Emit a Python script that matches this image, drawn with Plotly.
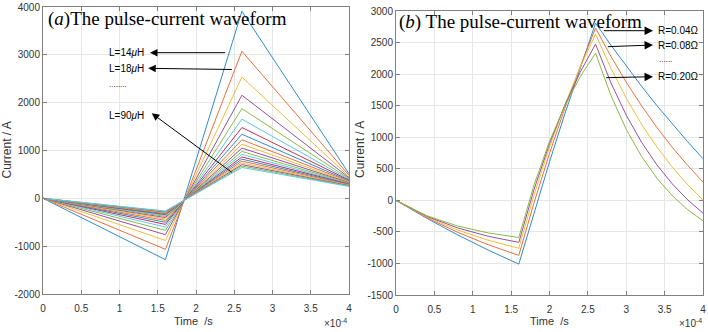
import plotly.graph_objects as go

# ---------------- data ----------------
# (a) inductance sweep: time in units of 1e-4 s
t_a = [0, 1.6, 2.6, 4.0]
L_values = [14, 18, 22, 26, 30, 34, 38, 42, 46, 50, 54, 58, 62, 66, 70, 74, 78, 82, 86, 90]
i_min_a = [-1282, -1066, -880, -760, -670, -600, -545, -500, -462, -430,
           -402, -378, -357, -339, -323, -309, -296, -285, -275, -265]
i_peak_a = [3910, 3075, 2535, 2155, 1875, 1655, 1480, 1340, 1225, 1130,
            1050, 980, 920, 865, 820, 778, 740, 705, 675, 645]
i_end_a = [515, 482, 455, 432, 412, 395, 380, 366, 353, 341,
           330, 319, 309, 300, 291, 282, 274, 266, 258, 250]

# (b) resistance sweep
t_b = [0, 0.4, 0.8, 1.2, 1.6, 1.8, 2.0, 2.2, 2.4, 2.6, 2.8, 3.0, 3.2, 3.4, 3.6, 3.8, 4.0]
R_values = ["0.04", "0.08", "0.12", "0.16", "0.20"]
i_R004 = [0, -284, -546, -787, -1011, -185, 609, 1371, 2104, 2808, 2459, 2124, 1806, 1500, 1207, 928, 660]
i_R008 = [0, -273, -505, -703, -872, -32, 743, 1459, 2119, 2729, 2281, 1872, 1497, 1154, 840, 553, 290]
i_R012 = [0, -263, -469, -631, -759, 91, 846, 1514, 2108, 2634, 2093, 1620, 1206, 843, 526, 248, 5]
i_R016 = [0, -253, -436, -569, -666, 178, 896, 1508, 2030, 2475, 1862, 1349, 920, 561, 260, 8, -203]
i_R020 = [0, -243, -406, -516, -589, 249, 935, 1497, 1957, 2333, 1662, 1124, 694, 349, 73, -148, -325]
series_b = [i_R004, i_R008, i_R012, i_R016, i_R020]

x_ticks = [0, 0.5, 1, 1.5, 2, 2.5, 3, 3.5, 4]
x_ticklabels = ["0", "0.5", "1", "1.5", "2", "2.5", "3", "3.5", "4"]
y_ticks_a = [-2000, -1000, 0, 1000, 2000, 3000, 4000]
y_ticks_b = [-1500, -1000, -500, 0, 500, 1000, 1500, 2000, 2500, 3000]

colors = ["#2E8BD0", "#EC6F3C", "#F0BE3A", "#9650A6", "#86BC45", "#5CC6F0", "#BC3450"]

W, H = 708, 332
fig = go.Figure()

for k, L in enumerate(L_values):
    fig.add_trace(go.Scatter(
        x=t_a, y=[0, i_min_a[k], i_peak_a[k], i_end_a[k]],
        mode="lines", line=dict(color=colors[k % 7], width=1),
        name=f"L={L}uH", showlegend=False, xaxis="x", yaxis="y"))

for k, s in enumerate(series_b):
    fig.add_trace(go.Scatter(
        x=t_b, y=s, mode="lines", line=dict(color=colors[k], width=1),
        name=f"R={R_values[k]}", showlegend=False, xaxis="x2", yaxis="y2"))

axis_common = dict(
    showgrid=True, gridcolor="#e6e6e6", gridwidth=1,
    showline=True, linecolor="#808080", linewidth=1, mirror="ticks",
    ticks="inside", ticklen=4, tickcolor="#808080", tickwidth=1,
    zeroline=False, automargin=False,
    tickfont=dict(family="Liberation Sans, Arial, sans-serif", size=10, color="#333333"),
)

fig.update_layout(
    width=W, height=H, margin=dict(l=0, r=0, t=0, b=0),
    paper_bgcolor="white", plot_bgcolor="white",
    xaxis=dict(domain=[43 / W, 349 / W], range=[0, 4], tickvals=x_ticks, ticktext=x_ticklabels,
               anchor="y", ticklabelstandoff=5, **axis_common),
    yaxis=dict(domain=[(H - 294) / H, (H - 7) / H], range=[-2000, 4000], tickvals=y_ticks_a,
               ticktext=[str(v) for v in y_ticks_a], anchor="x", **axis_common),
    xaxis2=dict(domain=[396 / W, 703 / W], range=[0, 4], tickvals=x_ticks, ticktext=x_ticklabels,
                anchor="y2", ticklabelstandoff=5, **axis_common),
    yaxis2=dict(domain=[(H - 295) / H, (H - 11) / H], range=[-1500, 3000], tickvals=y_ticks_b,
                ticktext=[str(v) for v in y_ticks_b], anchor="x2", **axis_common),
)

sans = "Liberation Sans, Arial, sans-serif"
serif = "Liberation Serif, Times New Roman, serif"
ann = []
# axis titles
for xc in [194 / W, 549 / W]:
    ann.append(dict(xref="paper", yref="paper", x=xc, y=(H - 321) / H, text="Time  /s",
                    xanchor="center", yanchor="middle",
                    showarrow=False, font=dict(family=sans, size=11, color="#333333")))
for xc in [6.5 / W, 360 / W]:
    ann.append(dict(xref="paper", yref="paper", x=xc, y=(H - 150) / H, text="Current / A",
                    xanchor="center", yanchor="middle",
                    textangle=-90, showarrow=False, font=dict(family=sans, size=12, color="#333333")))
for xc in [349 / W, 704 / W]:
    ann.append(dict(xref="paper", yref="paper", x=xc, y=(H - 323) / H, xanchor="right",
                    yanchor="middle",
                    text="×10<sup>-4</sup>", showarrow=False,
                    font=dict(family=sans, size=10, color="#333333")))
# panel titles
ann.append(dict(xref="paper", yref="paper", x=46 / W, y=(H - 19) / H, xanchor="left",
                yanchor="middle",
                text="(<i>a</i>)The pulse-current waveform", showarrow=False,
                font=dict(family=serif, size=19, color="black")))
ann.append(dict(xref="paper", yref="paper", x=397 / W, y=(H - 22) / H, xanchor="left",
                yanchor="middle",
                text="(<i>b</i>) The pulse-current waveform", showarrow=False,
                font=dict(family=serif, size=19, color="black")))

# panel (a) labels and arrows
lab_font = dict(family=sans, size=10, color="black")
for txt, yv in [("L=14<i>μ</i>H", 3045), ("L=18<i>μ</i>H", 2718), ("L=90<i>μ</i>H", 1742)]:
    ann.append(dict(xref="x", yref="y", x=0.837, y=yv, xanchor="left", yanchor="middle",
                    text=txt, showarrow=False, font=lab_font))
ann.append(dict(xref="x", yref="y", x=0.837, y=2380, xanchor="left", yanchor="middle",
                text="........", showarrow=False, font=dict(family=sans, size=8, color="black")))
for (hx, hy, tx, ty) in [(1.399, 3045, 2.401, 3045), (1.376, 2718, 2.488, 2693),
                         (1.421, 1778, 2.488, 520)]:
    ann.append(dict(xref="x", yref="y", axref="x", ayref="y", x=hx, y=hy, ax=tx, ay=ty,
                    text="", showarrow=True, arrowhead=2, arrowsize=1.5, arrowwidth=1,
                    arrowcolor="black"))

# panel (b) labels and arrows
for txt, yv in [("R=0.04Ω", 2688), ("R=0.08Ω", 2461), ("R=0.20Ω", 1959)]:
    ann.append(dict(xref="x2", yref="y2", x=3.384, y=yv, xanchor="left", yanchor="middle",
                    text=txt, showarrow=False, font=lab_font))
ann.append(dict(xref="x2", yref="y2", x=3.40, y=2225, xanchor="left", yanchor="middle",
                text="......", showarrow=False, font=dict(family=sans, size=8, color="black")))
for (hx, hy, tx, ty) in [(3.349, 2688, 2.688, 2688), (3.349, 2461, 2.740, 2434),
                         (3.349, 1959, 2.719, 1943)]:
    ann.append(dict(xref="x2", yref="y2", axref="x2", ayref="y2", x=hx, y=hy, ax=tx, ay=ty,
                    text="", showarrow=True, arrowhead=2, arrowsize=1.7, arrowwidth=1,
                    arrowcolor="black"))

fig.update_layout(annotations=ann)
fig.write_html("out.html")
